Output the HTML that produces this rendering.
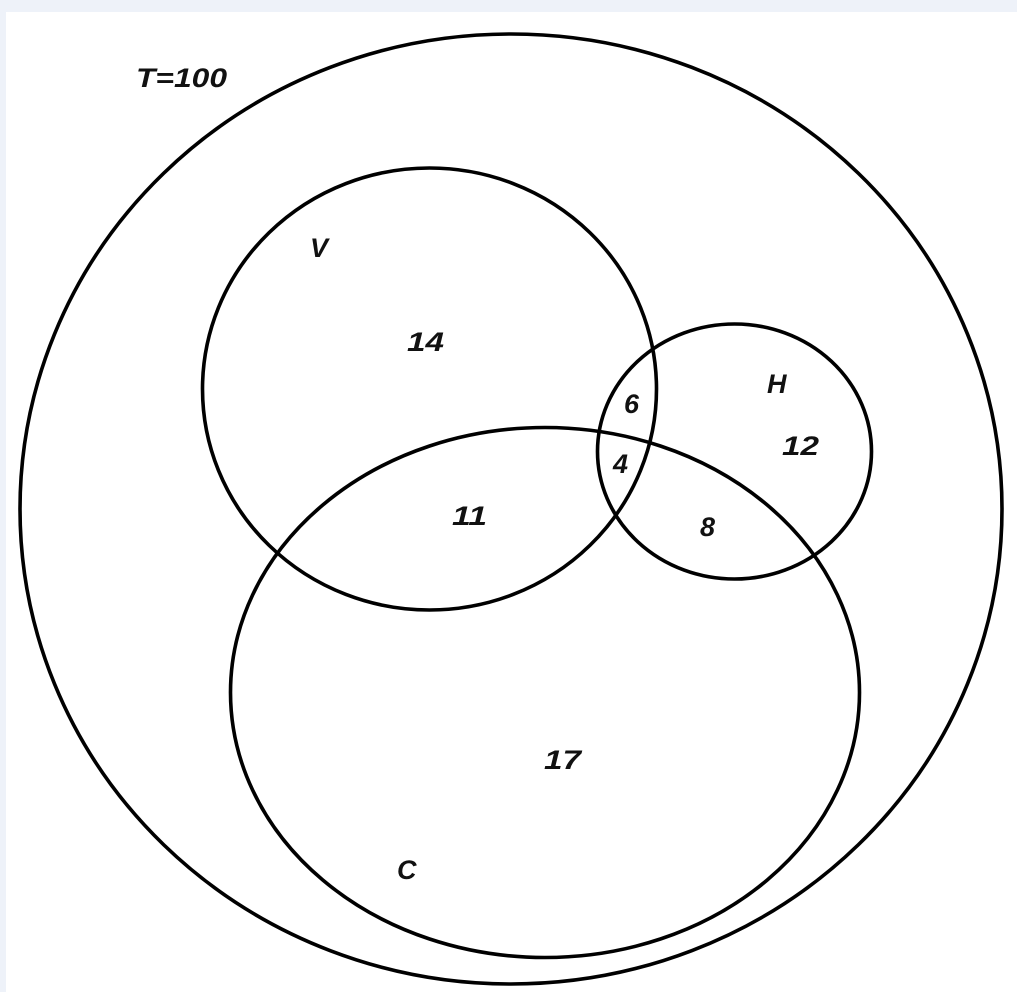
<!DOCTYPE html>
<html><head><meta charset="utf-8"><style>
html,body{margin:0;padding:0;background:#eef2f9;}
svg{display:block;}
text{font-family:"Liberation Sans",sans-serif;font-weight:bold;font-style:italic;font-size:27px;fill:#111;}
</style></head><body>
<svg width="1017" height="992" viewBox="0 0 1017 992">
<rect x="0" y="0" width="1017" height="992" fill="#eef2f9"/>
<rect x="6" y="12" width="1011" height="980" fill="#fff"/>
<g fill="none" stroke="#000" stroke-width="3.6">
<ellipse cx="511" cy="509" rx="491" ry="475"/>
<ellipse cx="429.5" cy="389" rx="227" ry="221"/>
<ellipse cx="734.5" cy="451.5" rx="137" ry="127.5"/>
<ellipse cx="545" cy="692.5" rx="314.5" ry="265"/>
</g>
<text x="136" y="87" textLength="91" lengthAdjust="spacingAndGlyphs">T=100</text>
<text x="310" y="257">V</text>
<text x="407" y="351" textLength="37" lengthAdjust="spacingAndGlyphs">14</text>
<text x="767" y="393">H</text>
<text x="782" y="455" textLength="37" lengthAdjust="spacingAndGlyphs">12</text>
<text x="624" y="413">6</text>
<text x="613" y="473">4</text>
<text x="452" y="525" textLength="35" lengthAdjust="spacingAndGlyphs">11</text>
<text x="700" y="536">8</text>
<text x="544" y="769" textLength="37" lengthAdjust="spacingAndGlyphs">17</text>
<text x="397" y="879">C</text>
</svg>
</body></html>
